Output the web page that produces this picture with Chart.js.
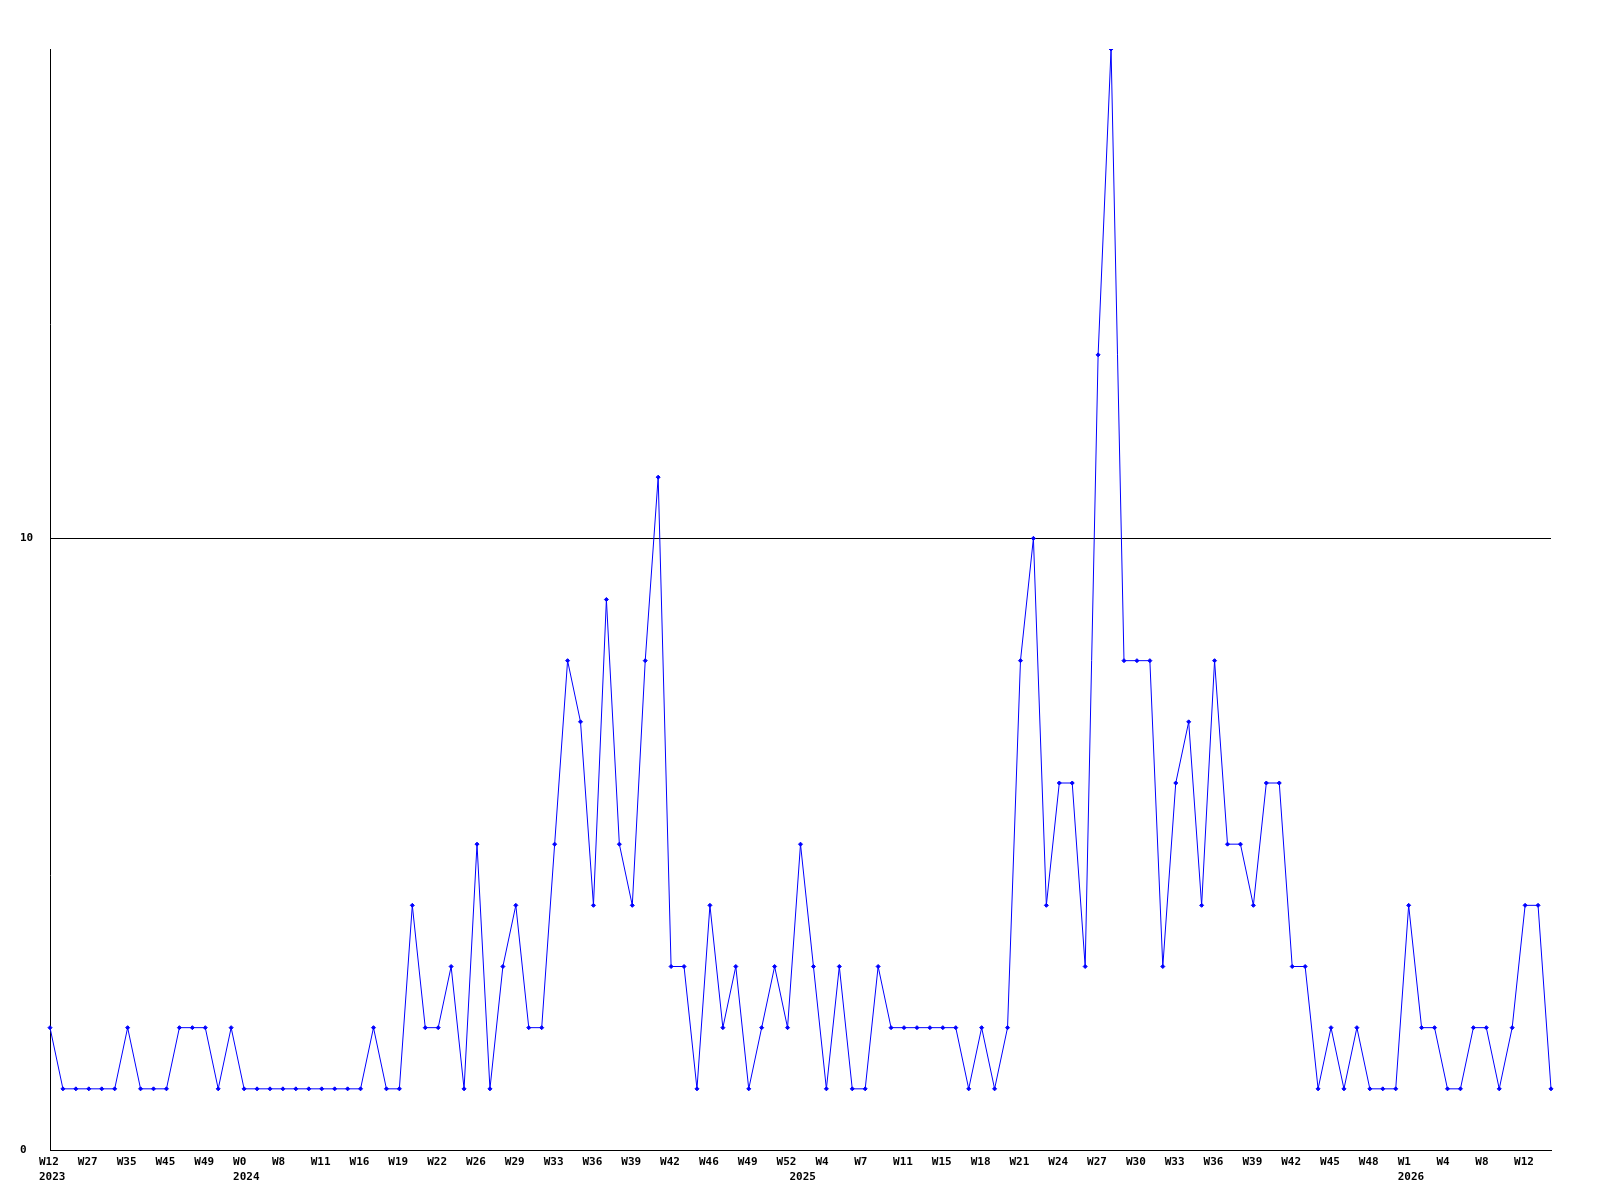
<!DOCTYPE html>
<html>
<head>
<meta charset="utf-8">
<title>weekly</title>
<script src="https://cdn.jsdelivr.net/npm/chart.js@4/dist/chart.umd.min.js"></script>
<style>
  html, body { margin: 0; padding: 0; background: #fff; }
  #chart { display: block; }
</style>
</head>
<body>
<canvas id="chart" width="1600" height="1200"></canvas>
<script>
// one value per week
const counts = [
  2, 1, 1, 1, 1, 1, 2, 1, 1, 1, 2, 2, 2, 1, 2,
  1, 1, 1, 1, 1, 1, 1, 1, 1, 1, 2, 1, 1, 4, 2,
  2, 3, 1, 5, 1, 3, 4, 2, 2, 5, 8, 7, 4, 9, 5,
  4, 8, 11, 3, 3, 1, 4, 2, 3, 1, 2, 3, 2, 5, 3,
  1, 3, 1, 1, 3, 2, 2, 2, 2, 2, 2, 1, 2, 1, 2,
  8, 10, 4, 6, 6, 3, 13, 18, 8, 8, 8, 3, 6, 7, 4,
  8, 5, 5, 4, 6, 6, 3, 3, 1, 2, 1, 2, 1, 1, 1,
  4, 2, 2, 1, 1, 2, 2, 1, 2, 4, 4, 1
];

// a label sits under every third point
const tickLabels = [
  "W12", "W27", "W35", "W45", "W49", "W0", "W8", "W11", "W16", "W19",
  "W22", "W26", "W29", "W33", "W36", "W39", "W42", "W46", "W49", "W52",
  "W4", "W7", "W11", "W15", "W18", "W21", "W24", "W27", "W30", "W33",
  "W36", "W39", "W42", "W45", "W48", "W1", "W4", "W8", "W12"
];
// year on the second line, keyed by the point where the year begins
const yearLabels = { 0: "2023", 15: "2024", 58: "2025", 105: "2026" };

const yTicks = [0, 10];
const labelStep = 3;

const labels = counts.map((v, i) => {
  let week = "";
  if (i % labelStep === 0 && i / labelStep < tickLabels.length) week = tickLabels[i / labelStep];
  const year = yearLabels[i];
  return year ? [week, year] : week;
});

const tickFont = { family: "'DejaVu Sans Mono', monospace", size: 11, weight: "bold", lineHeight: 15 / 11 };

new Chart(document.getElementById("chart"), {
  type: "line",
  data: {
    labels: labels,
    datasets: [{
      data: counts,
      borderColor: "#0000ff",
      backgroundColor: "#0000ff",
      borderWidth: 1,
      tension: 0,
      fill: false,
      pointStyle: "rectRot",
      pointRadius: 2,
      pointBorderWidth: 1,
      pointHoverRadius: 2
    }]
  },
  options: {
    responsive: false,
    animation: false,
    devicePixelRatio: 1,
    layout: { padding: { left: 20, top: 49, right: 49, bottom: 0 } },
    plugins: {
      legend: { display: false },
      tooltip: { enabled: false }
    },
    scales: {
      x: {
        type: "category",
        offset: false,
        grid: { display: false, drawTicks: false },
        border: { display: true, color: "#000", width: 1 },
        ticks: {
          autoSkip: false,
          maxRotation: 0,
          minRotation: 0,
          align: "start",
          labelOffset: -11,
          padding: 5,
          color: "#000",
          font: tickFont
        },
        afterFit: (s) => { s.height = 50; }
      },
      y: {
        min: 0,
        max: 18,
        grid: { color: "#000", lineWidth: 1, drawTicks: false },
        border: { display: true, color: "#000", width: 1 },
        afterBuildTicks: (s) => { s.ticks = yTicks.map(v => ({ value: v })); },
        ticks: {
          crossAlign: "far",
          padding: 0,
          color: "#000",
          font: tickFont
        },
        afterFit: (s) => { s.width = 30; }
      }
    }
  }
});
</script>
</body>
</html>
